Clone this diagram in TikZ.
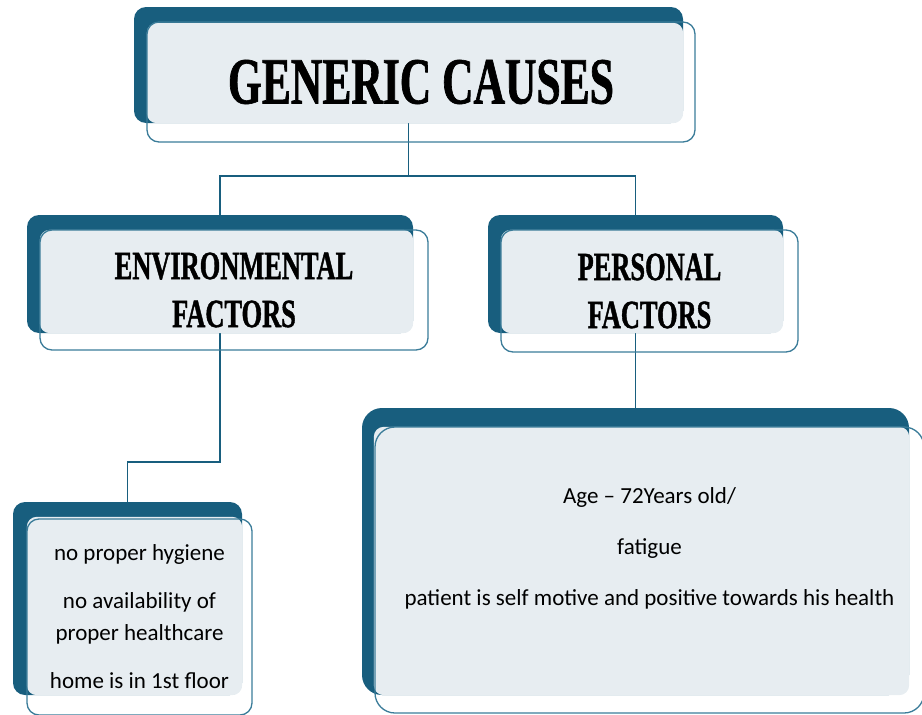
\documentclass[tikz,border=0pt]{standalone}
\usepackage{fontspec}
\setmainfont{Carlito}
\newfontfamily\headfont{Liberation Serif}[FakeStretch=0.66, FakeBold=1]
\usetikzlibrary{positioning}
\definecolor{darkteal}{RGB}{24,94,126}
\definecolor{paleblue}{RGB}{231,237,241}
\definecolor{edgeteal}{RGB}{59,124,153}
\def\headsize{\fontsize{40}{48}\selectfont}

\begin{document}
\begin{tikzpicture}[x=1pt, y=-1pt]
    \tikzstyle{back box}=[rectangle, rounded corners=12pt, fill=darkteal, inner sep=0pt]
    \tikzstyle{pale box}=[rounded corners=10pt, fill=paleblue]
    \tikzstyle{front box}=[rectangle, rounded corners=12pt, draw=edgeteal, line width=1.3pt, inner sep=0pt, align=center]
    \tikzstyle{head text}=[font=\headfont\bfseries\headsize]
    \tikzstyle{list text}=[font=\fontsize{23}{32}\selectfont]
    \tikzstyle{link}=[draw=darkteal, line width=1.5pt]

    \useasboundingbox (0,0) rectangle (922,715);

    % dark boxes behind
    \node[back box, minimum width=549pt, minimum height=116pt] (GC) at (408.5,65) {};
    \node[back box, minimum width=386pt, minimum height=118pt] (ENV) at (220,274) {};
    \node[back box, minimum width=295pt, minimum height=118pt] (PERS) at (635.5,274) {};
    \node[back box, minimum width=229pt, minimum height=193pt] (ENV-1) at (127.5,598.5) {};
    \node[back box, rounded corners=20pt, minimum width=547pt, minimum height=287pt] (PERS-1) at (635.5,551.5) {};

    \draw[link] (GC.south) -- ++(0,53) -| (ENV.north);
    \draw[link] (GC.south) ++(0,53) -| (PERS.north);
    \draw[link] (ENV.south) -- ++(0,129) -| (ENV-1.north);
    \draw[link] (PERS.south) -- (PERS-1.north);

    \fill[pale box] ([shift={(13,16)}]GC.north west) rectangle (GC.south east);
    \fill[pale box] ([shift={(13,15)}]ENV.north west) rectangle (ENV.south east);
    \fill[pale box] ([shift={(13,15)}]PERS.north west) rectangle (PERS.south east);
    \fill[pale box] ([shift={(14,15)}]ENV-1.north west) rectangle (ENV-1.south east);
    \fill[pale box] ([shift={(12,19)}]PERS-1.north west) rectangle (PERS-1.south east);

    \node[front box, head text, font=\headfont\bfseries\fontsize{66}{66}\selectfont, minimum width=548pt, minimum height=120pt] (GC-f) at (421,82) {GENERIC CAUSES};
    \node[front box, head text, minimum width=388pt, minimum height=120pt] (ENV-f) at (234,290) {ENVIRONMENTAL\\FACTORS};
    \node[front box, head text, minimum width=297pt, minimum height=122pt] (PERS-f) at (649.5,291) {PERSONAL\\FACTORS};
    \node[front box, list text, minimum width=225pt, minimum height=196pt] (ENV-1-f) at (139.5,617) {no proper hygiene\\[16pt]no availability of\\proper healthcare\\[16pt]home is in 1st floor};
    \node[front box, rounded corners=20pt, minimum width=549pt, minimum height=286pt] (PERS-1-f) at (649.5,570) {};

    \node[list text, align=center, below=58pt of PERS-1-f.north] (PERS-1-t) {Age -- 72Years old/\\[19pt]fatigue\\[19pt]patient is self motive and positive towards his health};
\end{tikzpicture}
\end{document}
